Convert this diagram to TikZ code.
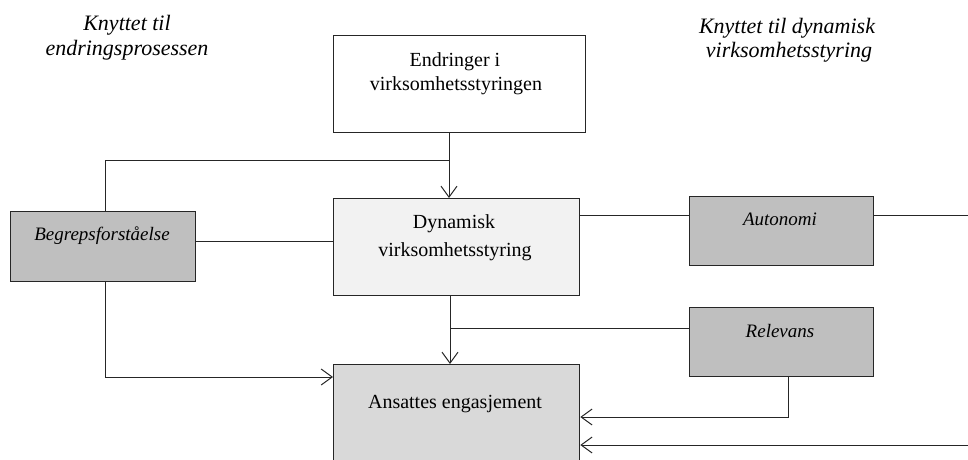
\documentclass[tikz,border=0pt]{standalone}
\usepackage{fontspec}
\setmainfont{Liberation Serif}
\usetikzlibrary{arrows.meta}
\begin{document}
\begin{tikzpicture}[x=1pt,y=-1pt,
  box/.style={draw=black!85,line width=1.3pt,inner sep=0pt,anchor=north west},
  lbl/.style={font=\fontsize{20}{24}\selectfont,anchor=base,inner sep=0pt},
  ilbl/.style={font=\fontsize{19}{23}\selectfont\itshape,anchor=base,inner sep=0pt},
  hlbl/.style={font=\fontsize{22}{26}\selectfont\itshape,anchor=base,inner sep=0pt},
  ln/.style={draw=black!85,line width=1pt},
  arr/.style={ln,-{Straight Barb[length=11pt,width=16pt,line width=1pt]}}]
\useasboundingbox (0,0) rectangle (968,459);
\begin{scope}
\clip (0,0) rectangle (968,459);
% headings
\node[hlbl] (h1a) at (127,30) {Knyttet til};
\node[hlbl] (h1b) at (127,55) {endringsprosessen};
\node[hlbl] (h2a) at (787,33) {Knyttet til dynamisk};
\node[hlbl] (h2b) at (789,57) {virksomhetsstyring};
% boxes
\node[box,fill=white,minimum width=252pt,minimum height=97pt] (top) at (333,35) {};
\node[lbl] (topa) at (455,66) {Endringer i};
\node[lbl] (topb) at (456,90) {virksomhetsstyringen};
\node[box,fill=black!5,minimum width=246pt,minimum height=97pt] (dyn) at (333,198) {};
\node[lbl] (dyna) at (454,228) {Dynamisk};
\node[lbl] (dynb) at (455,256) {virksomhetsstyring};
\node[box,fill=black!25,minimum width=185pt,minimum height=70pt] (beg) at (10,211) {};
\node[ilbl] (begtxt) at (102,240) {Begrepsforståelse};
\node[box,fill=black!25,minimum width=184pt,minimum height=69pt] (aut) at (689,196) {};
\node[ilbl] (auttxt) at (780,225) {Autonomi};
\node[box,fill=black!25,minimum width=184pt,minimum height=69pt] (rel) at (689,307) {};
\node[ilbl] (reltxt) at (780,337) {Relevans};
\node[box,fill=black!15,minimum width=246pt,minimum height=120pt] (ans) at (333,364) {};
\node[lbl] (anstxt) at (455,408) {Ansattes engasjement};
% coordinates
\coordinate (j1) at (449,160);
\coordinate (j2) at (450,328);
\coordinate (yb) at (0,241);
\coordinate (ya) at (0,215);
\coordinate (ye) at (968,215);
\coordinate (yr) at (788,417);
\coordinate (yl) at (0,377);
\coordinate (yx) at (968,445);
% connectors
\draw[ln] (top.south -| j1) -- (j1);
\draw[arr] (j1) -- (j1 |- dyn.north);
\draw[ln] (beg.north -| 105,0) |- (j1);
\draw[ln] (beg.east |- yb) -- (dyn.west |- yb);
\draw[arr] (beg.south -| 105,0) |- (ans.west |- yl);
\draw[ln] (dyn.east |- ya) -- (aut.west |- ya);
\draw[ln] (aut.east |- ya) -- (ye);
\draw[arr] (dyn.south -| j2) -- (ans.north -| j2);
\draw[ln] (j2) -- (rel.west |- j2);
\draw[arr] (rel.south -| yr) |- (ans.east |- yr);
\draw[arr] (yx) -- (ans.east |- yx);
\end{scope}
\end{tikzpicture}
\end{document}
